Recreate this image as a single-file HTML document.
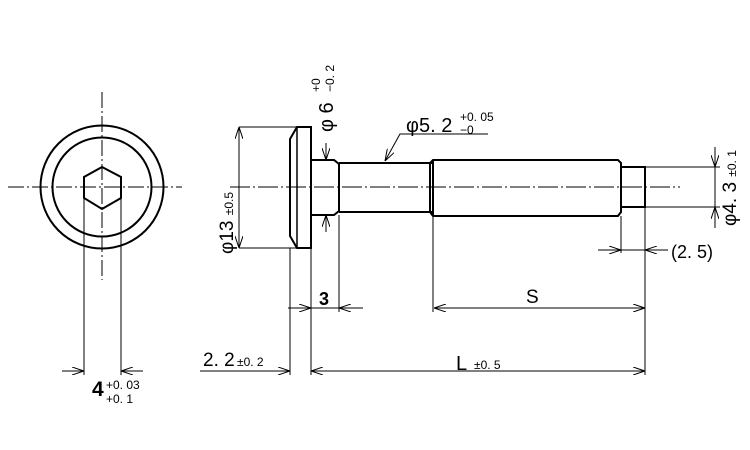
<!DOCTYPE html>
<html><head><meta charset="utf-8"><style>
html,body{margin:0;padding:0;background:#fff;}
svg{display:block;}
text{font-family:"Liberation Sans","Noto Sans CJK JP",sans-serif;fill:#000;}
</style></head><body>
<svg width="750" height="450" viewBox="0 0 750 450" xmlns="http://www.w3.org/2000/svg">
<defs>
<marker id="a" viewBox="0 0 12 8" refX="12" refY="4" markerWidth="12" markerHeight="8" orient="auto-start-reverse" markerUnits="userSpaceOnUse">
<path d="M0,0 L12,4 L0,8" fill="none" stroke="#000" stroke-width="1"/>
</marker>
</defs>
<g fill="none" stroke="#000">
<line x1="8" y1="187" x2="182" y2="187" stroke-width="1" stroke-dasharray="16,3,2,3"/>
<line x1="102" y1="92" x2="102" y2="280" stroke-width="1" stroke-dasharray="16,3,2,3"/>
<circle cx="102" cy="187" r="61.5" stroke-width="2"/>
<circle cx="102" cy="187" r="49.5" stroke-width="2"/>
<polygon points="102,167 121,177 121,198 102,209 84,198 84,177" stroke-width="2"/>
<line x1="84" y1="198" x2="84" y2="375" stroke-width="1"/>
<line x1="121" y1="198" x2="121" y2="375" stroke-width="1"/>
<line x1="62" y1="371" x2="84" y2="371" marker-end="url(#a)"/>
<line x1="143" y1="371" x2="121" y2="371" marker-end="url(#a)"/>

<line x1="230" y1="187" x2="680" y2="187" stroke-width="1" stroke-dasharray="20,3,2,3"/>
<path d="M297,127 L311,127 L311,248 L297,248 L290,236 L290,139 Z" stroke-width="2"/>
<line x1="297" y1="127" x2="297" y2="248" stroke-width="1.5"/>
<path d="M311,160 L334,160 L339,164 L339,211 L334,215 L311,215" stroke-width="2"/>
<line x1="339" y1="163" x2="432" y2="163" stroke-width="2"/>
<line x1="339" y1="212" x2="432" y2="212" stroke-width="2"/>
<path d="M433,160 L618,160 L621,163 L621,212 L618,216 L433,216 L430,212 L430,163 Z" stroke-width="2"/>
<line x1="433" y1="160" x2="433" y2="216" stroke-width="2"/>
<path d="M621,167 L645,167 L645,207 L621,207" stroke-width="2"/>

<line x1="239" y1="127" x2="297" y2="127" stroke-width="1"/>
<line x1="239" y1="248" x2="297" y2="248" stroke-width="1"/>
<line x1="239" y1="127" x2="239" y2="248" marker-start="url(#a)" marker-end="url(#a)"/>
<line x1="326" y1="143" x2="326" y2="160" marker-end="url(#a)"/>
<line x1="326" y1="232" x2="326" y2="215" marker-end="url(#a)"/>
<polyline points="488,134 400,134 385,161" marker-end="url(#a)"/>
<line x1="645" y1="167" x2="720" y2="167" stroke-width="1"/>
<line x1="645" y1="207" x2="720" y2="207" stroke-width="1"/>
<line x1="715" y1="147" x2="715" y2="167" marker-end="url(#a)"/>
<line x1="715" y1="228" x2="715" y2="207" marker-end="url(#a)"/>
<line x1="715" y1="167" x2="715" y2="207"/>
<line x1="621" y1="216" x2="621" y2="253"/>
<line x1="645" y1="207" x2="645" y2="375"/>
<line x1="598" y1="250" x2="621" y2="250" marker-end="url(#a)"/>
<line x1="668" y1="250" x2="645" y2="250" marker-end="url(#a)"/>
<line x1="621" y1="250" x2="645" y2="250"/>
<line x1="311" y1="248" x2="311" y2="375"/>
<line x1="290" y1="248" x2="290" y2="375"/>
<line x1="339" y1="215" x2="339" y2="312"/>
<line x1="288" y1="308" x2="311" y2="308" marker-end="url(#a)"/>
<line x1="363" y1="308" x2="339" y2="308" marker-end="url(#a)"/>
<line x1="311" y1="308" x2="339" y2="308"/>
<line x1="433" y1="216" x2="433" y2="312"/>
<line x1="434" y1="308" x2="645" y2="308" marker-start="url(#a)" marker-end="url(#a)"/>
<line x1="200" y1="371" x2="290" y2="371" marker-end="url(#a)"/>
<line x1="311" y1="371" x2="645" y2="371" marker-start="url(#a)" marker-end="url(#a)"/>
</g>

<text x="92" y="396" font-size="21" font-weight="bold">4</text>
<text x="106" y="389" font-size="12">+0. 03</text>
<text x="106" y="403" font-size="12">+0. 1</text>

<text transform="translate(233,254) rotate(-90)" font-size="19">φ13 <tspan font-size="12">±0.5</tspan></text>
<text transform="translate(333,132) rotate(-90)" font-size="20">φ 6</text>
<text transform="translate(320,92) rotate(-90)" font-size="12">+0</text>
<text transform="translate(334,92) rotate(-90)" font-size="12">−0. 2</text>

<text x="406" y="132" font-size="20">φ5. 2</text>
<text x="460" y="121" font-size="12">+0. 05</text>
<text x="460" y="134" font-size="12">−0</text>

<text transform="translate(736,226) rotate(-90)" font-size="19">φ4. 3 <tspan font-size="12">±0. 1</tspan></text>
<text x="671" y="258" font-size="18">(2. 5)</text>
<text x="319" y="305" font-size="18" font-weight="bold">3</text>
<text x="526" y="303" font-size="19">S</text>
<text x="203" y="366" font-size="19">2. 2</text>
<text x="237" y="366" font-size="12">±0. 2</text>
<text x="456" y="370" font-size="20">L</text>
<text x="474" y="369" font-size="12">±0. 5</text>
</svg>
</body></html>
